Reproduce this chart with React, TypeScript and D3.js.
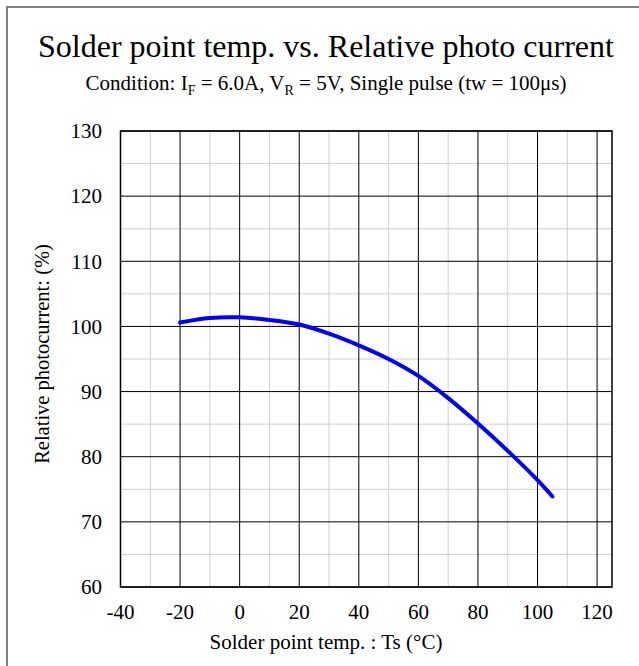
import React from "react";
import * as d3 from "d3";

const temps = [-20, -10, 0, 10, 20, 30, 40, 50, 60, 70, 80, 90, 100, 105];
const current = [100.6, 101.3, 101.4, 101.0, 100.3, 98.9, 97.1, 95.0, 92.4, 89.0, 85.1, 80.9, 76.4, 73.9];
const xTicks = [-40, -20, 0, 20, 40, 60, 80, 100, 120];
const xMinor = [-30, -10, 10, 30, 50, 70, 90, 110];
const yTicks = [60, 70, 80, 90, 100, 110, 120, 130];
const yMinor = [65, 75, 85, 95, 105, 115, 125];

const W = 639;
const H = 666;
const left = 120.5;
const right = 612;
const top = 131;
const bottom = 587;
const cx = 326;
const font = "'Liberation Serif', 'Times New Roman', serif";

export default function App() {
  const x = d3.scaleLinear().domain([-40, 125]).range([left, right]);
  const y = d3.scaleLinear().domain([60, 130]).range([bottom, top]);
  const data = temps.map((t, i) => [t, current[i]] as [number, number]);
  const line = d3
    .line<[number, number]>()
    .x((d) => x(d[0]))
    .y((d) => y(d[1]))
    .curve(d3.curveCatmullRom.alpha(0.5));

  return (
    <svg
      width={W}
      height={H}
      style={{ position: "absolute", left: 0, top: 0, background: "#fff" }}
      fontFamily={font}
    >
      <rect x={0} y={0} width={W} height={H} fill="#fff" />
      {/* frame: top and left only */}
      <line x1={6} y1={7} x2={W} y2={7} stroke="#808080" strokeWidth={2} />
      <line x1={7} y1={6} x2={7} y2={H} stroke="#808080" strokeWidth={2} />

      <text x={cx} y={57} textAnchor="middle" fontSize={32} fill="#000">
        Solder point temp. vs. Relative photo current
      </text>
      <text x={cx} y={90} textAnchor="middle" fontSize={21} fill="#000">
        Condition: I
        <tspan fontSize={14} dy={5}>F</tspan>
        <tspan dy={-5}> = 6.0A, V</tspan>
        <tspan fontSize={14} dy={5}>R</tspan>
        <tspan dy={-5}> = 5V, Single pulse (tw = 100μs)</tspan>
      </text>

      {/* minor grid */}
      {xMinor.map((t) => (
        <line key={"xm" + t} x1={x(t)} x2={x(t)} y1={top} y2={bottom} stroke="#cfcfcf" strokeWidth={1} />
      ))}
      {yMinor.map((t) => (
        <line key={"ym" + t} x1={left} x2={right} y1={y(t)} y2={y(t)} stroke="#cfcfcf" strokeWidth={1} />
      ))}
      {/* major grid */}
      {xTicks.map((t) => (
        <line key={"xM" + t} x1={x(t)} x2={x(t)} y1={top} y2={bottom} stroke="#000" strokeWidth={1} />
      ))}
      {yTicks.map((t) => (
        <line key={"yM" + t} x1={left} x2={right} y1={y(t)} y2={y(t)} stroke="#000" strokeWidth={1} />
      ))}
      <rect x={left} y={top} width={right - left} height={bottom - top} fill="none" stroke="#000" strokeWidth={1.5} />

      <path d={line(data) || ""} fill="none" stroke="#0000ff" strokeWidth={4} strokeLinecap="round" />

      {xTicks.map((t) => (
        <text key={"xl" + t} x={x(t)} y={619} textAnchor="middle" fontSize={21} fill="#000">
          {t}
        </text>
      ))}
      {yTicks.map((t) => (
        <text key={"yl" + t} x={102} y={y(t)} dy="0.35em" textAnchor="end" fontSize={21} fill="#000">
          {t}
        </text>
      ))}
      <text x={cx} y={649} textAnchor="middle" fontSize={21} fill="#000">
        Solder point temp. : Ts (°C)
      </text>
      <text
        transform={`translate(49, 354) rotate(-90)`}
        textAnchor="middle"
        fontSize={20.5}
        fill="#000"
      >
        Relative photocurrent: (%)
      </text>
    </svg>
  );
}
